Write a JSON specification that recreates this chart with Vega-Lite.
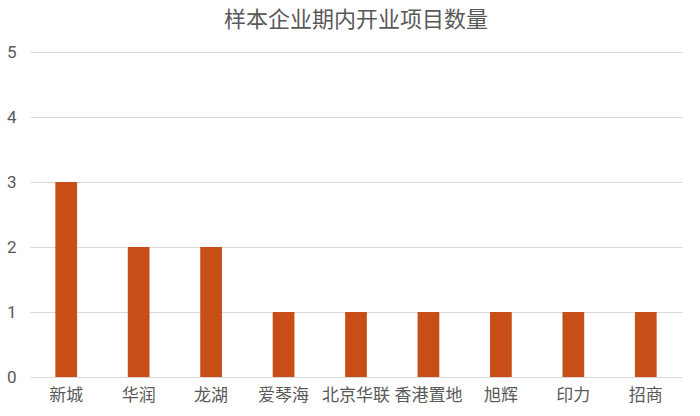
{
  "$schema": "https://vega.github.io/schema/vega-lite/v6.json",
  "autosize": {"type": "none"},
  "width": 652,
  "height": 325,
  "padding": {"left": 30, "top": 52, "right": 18, "bottom": 39},
  "background": "white",
  "title": {
    "text": "样本企业期内开业项目数量",
    "font": "Noto Sans CJK SC",
    "fontSize": 22,
    "fontWeight": "normal",
    "color": "#595959",
    "anchor": "middle",
    "offset": 11
  },
  "data": {
    "values": [
      {"company": "新城", "count": 3},
      {"company": "华润", "count": 2},
      {"company": "龙湖", "count": 2},
      {"company": "爱琴海", "count": 1},
      {"company": "北京华联", "count": 1},
      {"company": "香港置地", "count": 1},
      {"company": "旭辉", "count": 1},
      {"company": "印力", "count": 1},
      {"company": "招商", "count": 1}
    ]
  },
  "mark": {"type": "bar", "color": "#C84E17"},
  "encoding": {
    "x": {
      "field": "company",
      "type": "nominal",
      "sort": null,
      "scale": {"paddingInner": 0.7, "paddingOuter": 0.35},
      "axis": {
        "title": null,
        "labelAngle": 0,
        "labelFont": "Noto Sans CJK SC",
        "labelFontSize": 17,
        "labelColor": "#595959",
        "labelPadding": 10,
        "ticks": false,
        "domain": false
      }
    },
    "y": {
      "field": "count",
      "type": "quantitative",
      "scale": {"domain": [0, 5], "nice": false},
      "axis": {
        "title": null,
        "values": [0, 1, 2, 3, 4, 5],
        "labelOverlap": false,
        "labelFont": "Roboto",
        "labelFontSize": 17,
        "labelColor": "#595959",
        "labelPadding": 14,
        "ticks": false,
        "domain": false,
        "gridColor": "#d9d9d9",
        "gridWidth": 1
      }
    }
  },
  "config": {"view": {"stroke": null}}
}
